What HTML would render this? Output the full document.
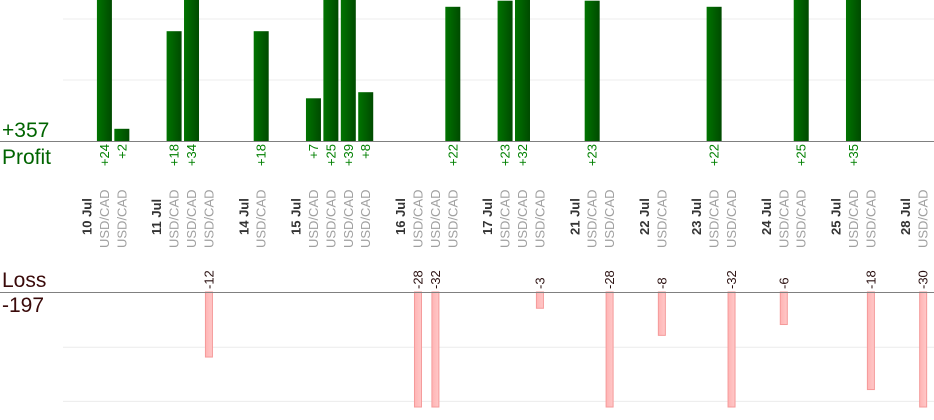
<!DOCTYPE html>
<html><head><meta charset="utf-8"><style>
body{margin:0;background:#fff;font-family:"Liberation Sans",sans-serif}
svg{display:block}
</style></head><body>
<svg id="c" width="934" height="420">
<defs><linearGradient id="g" x1="0" x2="1"><stop offset="0" stop-color="#007400"/><stop offset="1" stop-color="#004a00"/></linearGradient>
<linearGradient id="p" x1="0" x2="1"><stop offset="0" stop-color="#ffb4b4"/><stop offset="1" stop-color="#ffc8c8"/></linearGradient></defs>
<text x="2" y="137" font-size="21" fill="#006400">+357</text>
<text x="2" y="164" font-size="21" fill="#006400">Profit</text>
<text x="2" y="287" font-size="21" fill="#3a0a0a">Loss</text>
<text x="2" y="312" font-size="21" fill="#3a0a0a">-197</text>
</svg>
<script>
const slotLabels=["10 Jul","U","U","","11 Jul","U","U","U","","14 Jul","U","","15 Jul","U","U","U","U","","16 Jul","U","U","U","","17 Jul","U","U","U","","21 Jul","U","U","","22 Jul","U","","23 Jul","U","U","","24 Jul","U","U","","25 Jul","U","U","","28 Jul","U"];
const profitSlots=[1,2,5,6,10,13,14,15,16,21,24,25,29,36,41,44];
const profitValues=[24,2,18,34,18,7,25,39,8,22,23,32,23,22,25,35];
const lossSlots=[7,19,20,26,30,33,37,40,45,48];
const lossValues=[-12,-28,-32,-3,-28,-8,-32,-6,-18,-30];
const profitGrid=[10,20];
const lossGrid=[-10,-20];
const svg=document.getElementById('c');const NS='http://www.w3.org/2000/svg';
const xS=i=>87+i*17.42;
const pBase=141,pK=6.1,pTop=0;
const lBase=292,lK=5.42,lBot=407;
const yP=v=>Math.max(pTop,pBase-v*pK);
const yL=v=>Math.min(lBot,lBase-v*lK);
function mk(t,a,txt){const e=document.createElementNS(NS,t);for(const k in a)e.setAttribute(k,a[k]);if(txt!=null)e.textContent=txt;svg.appendChild(e);return e;}
profitGrid.forEach(v=>{const e=mk('line',{x1:63,x2:934,y1:yP(v),y2:yP(v),stroke:'#ececec'});

});
lossGrid.forEach(v=>{const e=mk('line',{x1:63,x2:934,y1:yL(v)+1,y2:yL(v)+1,stroke:'#ececec'});

});
profitValues.forEach((v,i)=>{const x=xS(profitSlots[i]);const y=yP(v);
const r=mk('rect',{x:x-7.5,y:y,width:15,height:pBase-y,fill:'url(#g)'});


const t=mk('text',{transform:`translate(${x+4.5},144) rotate(-90)`,'text-anchor':'end','font-size':13,fill:'#008000'},'+'+v);

});
lossValues.forEach((v,i)=>{const x=xS(lossSlots[i]);const y=yL(v);
const r=mk('rect',{x:x-3.5,y:lBase,width:7,height:y-lBase,fill:'url(#p)',stroke:'#f59a9a','stroke-width':1});


const t=mk('text',{transform:`translate(${x+4.5},289) rotate(-90)`,'text-anchor':'start','font-size':13,fill:'#2a1010'},String(v));

});
[[0,pBase],[0,lBase]].forEach(([a,y],k)=>{const e=mk('line',{x1:0,x2:934,y1:y+0.5,y2:y+0.5,stroke:'#808080'});

});
slotLabels.forEach((s,i)=>{if(!s)return;const x=xS(i)+4.5;
if(s==='U'){const t=mk('text',{transform:`translate(${x},248) rotate(-90)`,'font-size':13,fill:'#a0a0a0'},'USD/CAD');

}
else{const t=mk('text',{transform:`translate(${x},235) rotate(-90)`,'font-size':13,'font-weight':'bold',fill:'#333'},s);

}});
</script>
</body></html>
